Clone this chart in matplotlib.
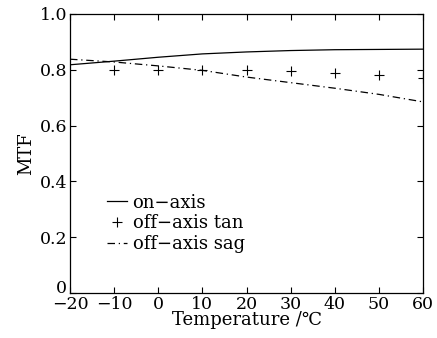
import matplotlib
matplotlib.use("Agg")
import matplotlib.pyplot as plt
from matplotlib.transforms import ScaledTranslation

temp = [-20, -10, 0, 10, 20, 30, 40, 50, 60]
on_axis = [0.818, 0.831, 0.845, 0.857, 0.864, 0.869, 0.872, 0.873, 0.874]
tan_t = [-10, 0, 10, 20, 30, 40, 50, 60]
off_tan = [0.801, 0.800, 0.800, 0.799, 0.795, 0.788, 0.781, 0.770]
off_sag = [0.838, 0.828, 0.814, 0.798, 0.774, 0.754, 0.734, 0.712, 0.685]

plt.rcParams['font.family'] = ['DejaVu Serif']
plt.rcParams['mathtext.fontset'] = 'dejavuserif'

fig = plt.figure(figsize=(4.37, 3.38), dpi=100)
ax = fig.add_axes([70 / 437, 45 / 338, 353 / 437, 279 / 338])

ax.plot(temp, on_axis, color='black', lw=0.9, label='on\u2212axis')
ax.plot(tan_t, off_tan, ls='none', marker='+', ms=7, mew=0.8, color='black',
        label='off\u2212axis tan')
ax.plot(temp, off_sag, color='black', lw=0.9, ls=(0, (6, 3, 1, 3)),
        label='off\u2212axis sag')

ax.set_xlim(-20, 60)
ax.set_ylim(0, 1.0)
ax.set_xticks(range(-20, 61, 10))
ax.set_xticklabels(['\u221220', '\u221210', '0', '10', '20', '30', '40', '50', '60'])
ax.set_yticks([0, 0.2, 0.4, 0.6, 0.8, 1.0])
ax.set_yticklabels(['0', '0.2', '0.4', '0.6', '0.8', '1.0'])
ax.tick_params(direction='in', top=True, right=True, length=4, width=0.8,
               labelsize=12.5, pad=2)
for s in ax.spines.values():
    s.set_linewidth(0.9)

# lift the y "0" a little so it clears the x labels
lbl0 = ax.get_yticklabels()[0]
lbl0.set_transform(lbl0.get_transform() + ScaledTranslation(0, 5 / 72, fig.dpi_scale_trans))

ax.set_xlabel('Temperature /\u2103', fontsize=13, labelpad=-1)
ax.set_ylabel('MTF', fontsize=13, labelpad=3)

ax.legend(loc='center left', bbox_to_anchor=(0.08, 0.25), frameon=False,
          fontsize=13, handlelength=1.1, handletextpad=0.3, labelspacing=0.15,
          borderpad=0)

fig.savefig('out.png', dpi=100, facecolor='white')
